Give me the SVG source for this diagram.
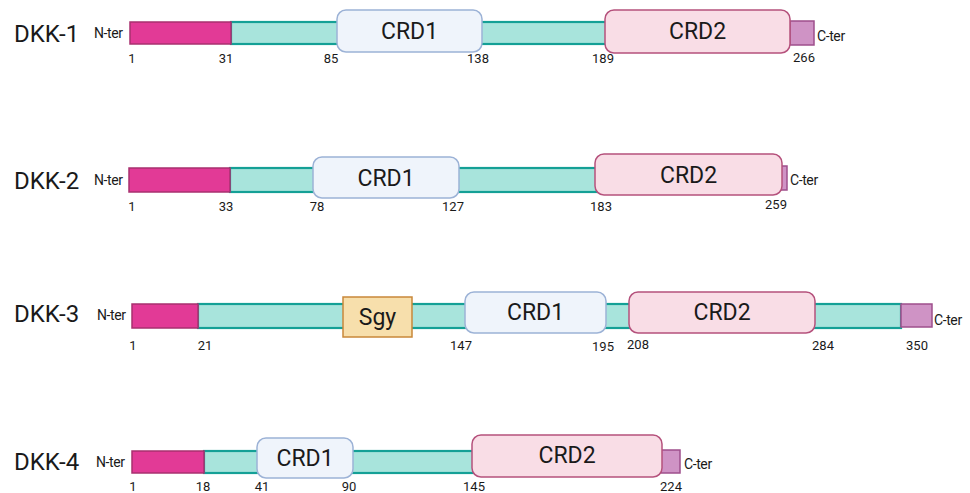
<svg xmlns="http://www.w3.org/2000/svg" width="970" height="493" viewBox="0 0 970 493">
<style>
text{font-family:Roboto,"Liberation Sans",sans-serif;fill:#1a1a1a}
.lab{font-size:24px}
.ter{font-size:14px;letter-spacing:-0.4px}
.num{font-size:13px;text-anchor:middle}
.dom{font-size:23px;text-anchor:middle}
.nt{fill:#e23a96;stroke:#a8306f;stroke-width:1.5}
.lk{fill:#a8e4dc;stroke:#14a096;stroke-width:2.2}
.c1{fill:#eff4fb;stroke:#9cb2d6;stroke-width:1.5}
.c2{fill:#f9dde6;stroke:#b5517c;stroke-width:1.5}
.sg{fill:#f7dfac;stroke:#c9883a;stroke-width:1.5}
.ct{fill:#cf93c5;stroke:#9e4f8c;stroke-width:1.5}
</style>
<rect width="970" height="493" fill="#fff"/>
<g id="dkk1">
<text class="lab" x="14" y="42">DKK-1</text>
<text class="ter" x="94" y="38">N-ter</text>
<rect class="lk" x="231" y="22" width="110" height="22"/>
<rect class="lk" x="478" y="22" width="131" height="22"/>
<rect class="nt" x="130" y="22" width="101" height="22"/>
<rect class="c1" x="337" y="10" width="145" height="42" rx="9"/>
<text class="dom" x="409.500" y="39">CRD1</text>
<rect class="ct" x="790" y="21" width="24" height="24"/>
<rect class="c2" x="605" y="10" width="185" height="43" rx="9"/>
<text class="dom" x="697.500" y="39">CRD2</text>
<text class="ter" x="817" y="41">C-ter</text>
<text class="num" x="132" y="63">1</text>
<text class="num" x="226" y="63">31</text>
<text class="num" x="331" y="63">85</text>
<text class="num" x="478" y="63">138</text>
<text class="num" x="603" y="63">189</text>
<text class="num" x="804" y="62">266</text>
</g>
<g id="dkk2">
<text class="lab" x="14" y="189">DKK-2</text>
<text class="ter" x="94" y="185">N-ter</text>
<rect class="lk" x="230" y="168" width="87" height="24"/>
<rect class="lk" x="455" y="168" width="144" height="24"/>
<rect class="nt" x="129" y="168" width="101" height="24"/>
<rect class="c1" x="313" y="157" width="146" height="41" rx="9"/>
<text class="dom" x="386" y="186">CRD1</text>
<rect class="ct" x="781" y="166" width="6" height="24"/>
<rect class="c2" x="595" y="154" width="187" height="41" rx="9"/>
<text class="dom" x="688.500" y="183">CRD2</text>
<text class="ter" x="790" y="185">C-ter</text>
<text class="num" x="132" y="211">1</text>
<text class="num" x="226" y="211">33</text>
<text class="num" x="317" y="211">78</text>
<text class="num" x="453" y="211">127</text>
<text class="num" x="601" y="211">183</text>
<text class="num" x="776" y="209">259</text>
</g>
<g id="dkk3">
<text class="lab" x="14" y="322">DKK-3</text>
<text class="ter" x="97" y="320">N-ter</text>
<rect class="lk" x="198" y="304" width="270" height="24"/>
<rect class="lk" x="603" y="304" width="30" height="24"/>
<rect class="lk" x="811" y="304" width="90" height="24"/>
<rect class="nt" x="132" y="304" width="66" height="24"/>
<rect class="sg" x="343" y="297" width="69" height="40"/>
<text class="dom" x="377.500" y="325">Sgy</text>
<rect class="c1" x="465" y="292" width="141" height="41" rx="9"/>
<text class="dom" x="535.500" y="320">CRD1</text>
<rect class="c2" x="629" y="292" width="186" height="41" rx="9"/>
<text class="dom" x="722" y="320">CRD2</text>
<rect class="ct" x="901" y="304" width="31" height="23"/>
<text class="ter" x="934" y="325">C-ter</text>
<text class="num" x="133" y="350">1</text>
<text class="num" x="205" y="350">21</text>
<text class="num" x="461" y="350">147</text>
<text class="num" x="603" y="351">195</text>
<text class="num" x="638" y="349">208</text>
<text class="num" x="823" y="350">284</text>
<text class="num" x="917" y="350">350</text>
</g>
<g id="dkk4">
<text class="lab" x="14" y="470">DKK-4</text>
<text class="ter" x="96" y="467">N-ter</text>
<rect class="lk" x="204" y="451" width="56" height="22"/>
<rect class="lk" x="350" y="451" width="126" height="22"/>
<rect class="nt" x="132" y="451" width="72" height="22"/>
<rect class="c1" x="257" y="438" width="96" height="40" rx="9"/>
<text class="dom" x="305" y="466">CRD1</text>
<rect class="ct" x="661" y="450" width="19" height="23"/>
<rect class="c2" x="472" y="435" width="190" height="42" rx="9"/>
<text class="dom" x="567" y="463">CRD2</text>
<text class="ter" x="684" y="469">C-ter</text>
<text class="num" x="133" y="491">1</text>
<text class="num" x="203" y="491">18</text>
<text class="num" x="262" y="491">41</text>
<text class="num" x="349" y="491">90</text>
<text class="num" x="474" y="491">145</text>
<text class="num" x="671" y="491">224</text>
</g>
</svg>
